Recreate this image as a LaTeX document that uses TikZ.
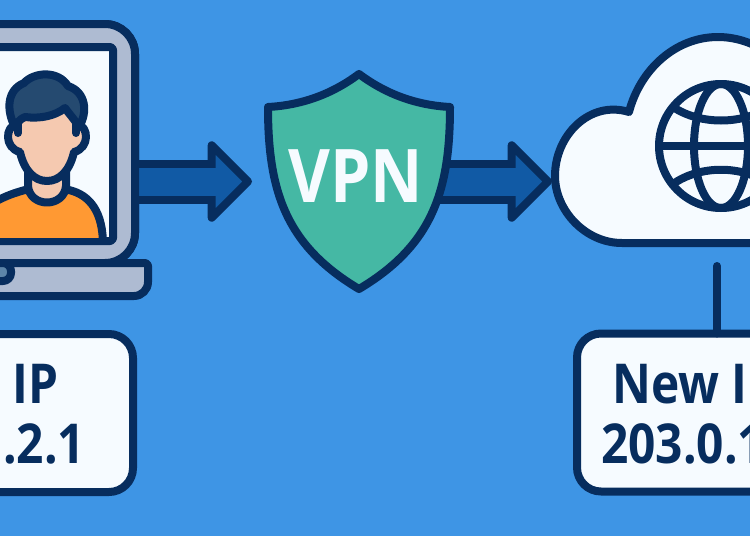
\documentclass[tikz,border=0pt]{standalone}
\usepackage{xcolor}
\usepackage{fontspec}
\setmainfont{Open Sans}[BoldFeatures={FakeStretch=0.87}]
\usetikzlibrary{arrows.meta, positioning}

\definecolor{skyback}{HTML}{3E95E5}
\definecolor{navyline}{HTML}{072D5E}
\definecolor{arrowfill}{HTML}{115AA5}
\definecolor{shellgrey}{HTML}{AEBBD2}
\definecolor{paperwhite}{HTML}{F6FBFF}
\definecolor{shieldgreen}{HTML}{45B8A4}
\definecolor{skintone}{HTML}{F5C9B0}
\definecolor{shirtorange}{HTML}{FF9933}
\definecolor{hairblue}{HTML}{254A70}
\definecolor{notchblue}{HTML}{5D85A8}

\begin{document}
\begin{tikzpicture}[
        x=1pt, y=-1pt,
        outline/.style={draw=navyline, line width=8pt, line join=round},
        shell/.style={rectangle, outline, fill=shellgrey, rounded corners=30pt, outer sep=0pt,
                      minimum width=285pt, minimum height=239pt},
        screen/.style={rectangle, outline, fill=paperwhite, rounded corners=3pt, outer sep=0pt,
                       minimum width=263pt, minimum height=194pt},
        ipbox/.style={rectangle, outline, fill=paperwhite, rounded corners=24pt, outer sep=0pt,
                      minimum width=280pt, minimum height=158pt},
        iptext/.style={anchor=base west, inner sep=0pt, text=navyline,
                       font=\fontsize{55}{60}\selectfont\bfseries},
        vpntext/.style={inner sep=0pt, text=paperwhite, font=\fontsize{74}{78}\selectfont\bfseries},
        arrowbody/.style={draw=navyline, line width=44pt,
                          -{Triangle[length=46pt, width=90pt, round, line width=8pt, fill=arrowfill]}},
        arrowcore/.style={draw=arrowfill, line width=28pt, shorten >=30pt},
        stem/.style={draw=navyline, line width=8pt, line cap=round},
    ]
    \useasboundingbox (0,0) rectangle (750,536);
    \clip (0,0) rectangle (750,536);
    \fill[skyback] (0,0) rectangle (750,536);

    \coordinate (tipa) at (252,181.5);
    \coordinate (tipb) at (552,181.5);
    \coordinate (stemtop) at (717,266);

    \node[shell] (laptop) at (-7.5,143.5) {};
    \node[vpntext] (vpn) at (356,176) {VPN};

    % arrows go under the laptop, the shield and the cloud
    \draw[arrowbody] (laptop.east |- tipa) -- (tipa);
    \draw[arrowcore] (laptop.east |- tipa) -- (tipa);
    \draw[arrowbody] (vpn.center |- tipb) -- (tipb);
    \draw[arrowcore] (vpn.center |- tipb) -- (tipb);

    % laptop
    \node[shell] at (laptop) {};
    \draw[outline, fill=shellgrey, rounded corners=3pt] (-20,263) -- (148,263)
        [rounded corners=14pt] -- (148,296) -- (-20,296) -- cycle;
    \draw[outline, fill=notchblue, rounded corners=8pt] (-20,263) -- (11,263) -- (11,281) -- (-20,281) -- cycle;
    \node[screen] (display) at (-18.5,144) {};

    % person
    \begin{scope}
        \clip (-20,51) rectangle (109,237);
        \draw[outline, fill=shirtorange] (-20,212) .. controls (-5,200) and (10,194) .. (25,190)
            -- (69,190) .. controls (90,195) and (103,212) .. (103,245) -- (-20,245) -- cycle;
    \end{scope}
    \draw[outline, fill=skintone] (28,170) -- (28,186) .. controls (30,208) and (64,208) .. (66,186) -- (66,170) -- cycle;
    \draw[outline, fill=skintone] (17,124) .. controls (5,126) and (4,148) .. (20,152)
        .. controls (24,170) and (34,181) .. (47,181)
        .. controls (60,181) and (70,170) .. (74,152)
        .. controls (90,148) and (89,126) .. (77,124) -- (69,95) -- (25,95) -- cycle;
    \draw[outline, fill=hairblue] (15,127) .. controls (6,110) and (7,90) .. (24,83)
        .. controls (34,72) and (58,70) .. (68,86) .. controls (86,92) and (88,112) .. (79,127)
        .. controls (75,120) and (70,115) .. (65,108) .. controls (55,116) and (40,119) .. (25,117)
        .. controls (20,119) and (18,122) .. (15,127) -- cycle;
    \draw[stem] (18,122) -- (18,133);
    \draw[stem] (76,122) -- (76,133);

    % shield
    \draw[outline, fill=shieldgreen] (268,107) .. controls (305,105) and (335,92) .. (359,74)
        .. controls (383,92) and (413,105) .. (450,107)
        .. controls (450,190) and (433,245) .. (359,289)
        .. controls (285,245) and (268,190) .. (268,107) -- cycle;
    \node[vpntext] at (vpn) {VPN};

    % cloud
    \draw[outline, fill=paperwhite] (810,243) -- (622,243)
        .. controls (585,243) and (555,210) .. (555,176)
        .. controls (555,135) and (590,100) .. (629,112)
        .. controls (640,70) and (675,37) .. (718,37)
        .. controls (760,37) and (800,70) .. (810,110) -- cycle;

    % globe
    \node[circle, outline, minimum size=124pt, inner sep=0pt, outer sep=0pt] (globe) at (721,146) {};
    \draw[outline] (721,146) ellipse[x radius=27pt, y radius=62pt];
    \draw[outline] (globe.west) -- (globe.east);
    \draw[outline] (673,107) .. controls (700,125) and (742,125) .. (769,107);
    \draw[outline] (673,184) .. controls (700,165) and (742,165) .. (769,184);

    % address boxes
    \node[ipbox] (oldbox) at (-7,413) {};
    \node[ipbox] (newbox) at (717,412.5) {};
    \draw[stem] (stemtop) -- (newbox.north);

    \node[iptext] (oldip) at (12,403) {IP};
    \node[iptext] (oldaddr) at (3,463) {.2.1};
    \node[iptext] (newip) at (612,403) {New I};
    \node[iptext] (newaddr) at (601,463) {203.0.1};
\end{tikzpicture}
\end{document}
